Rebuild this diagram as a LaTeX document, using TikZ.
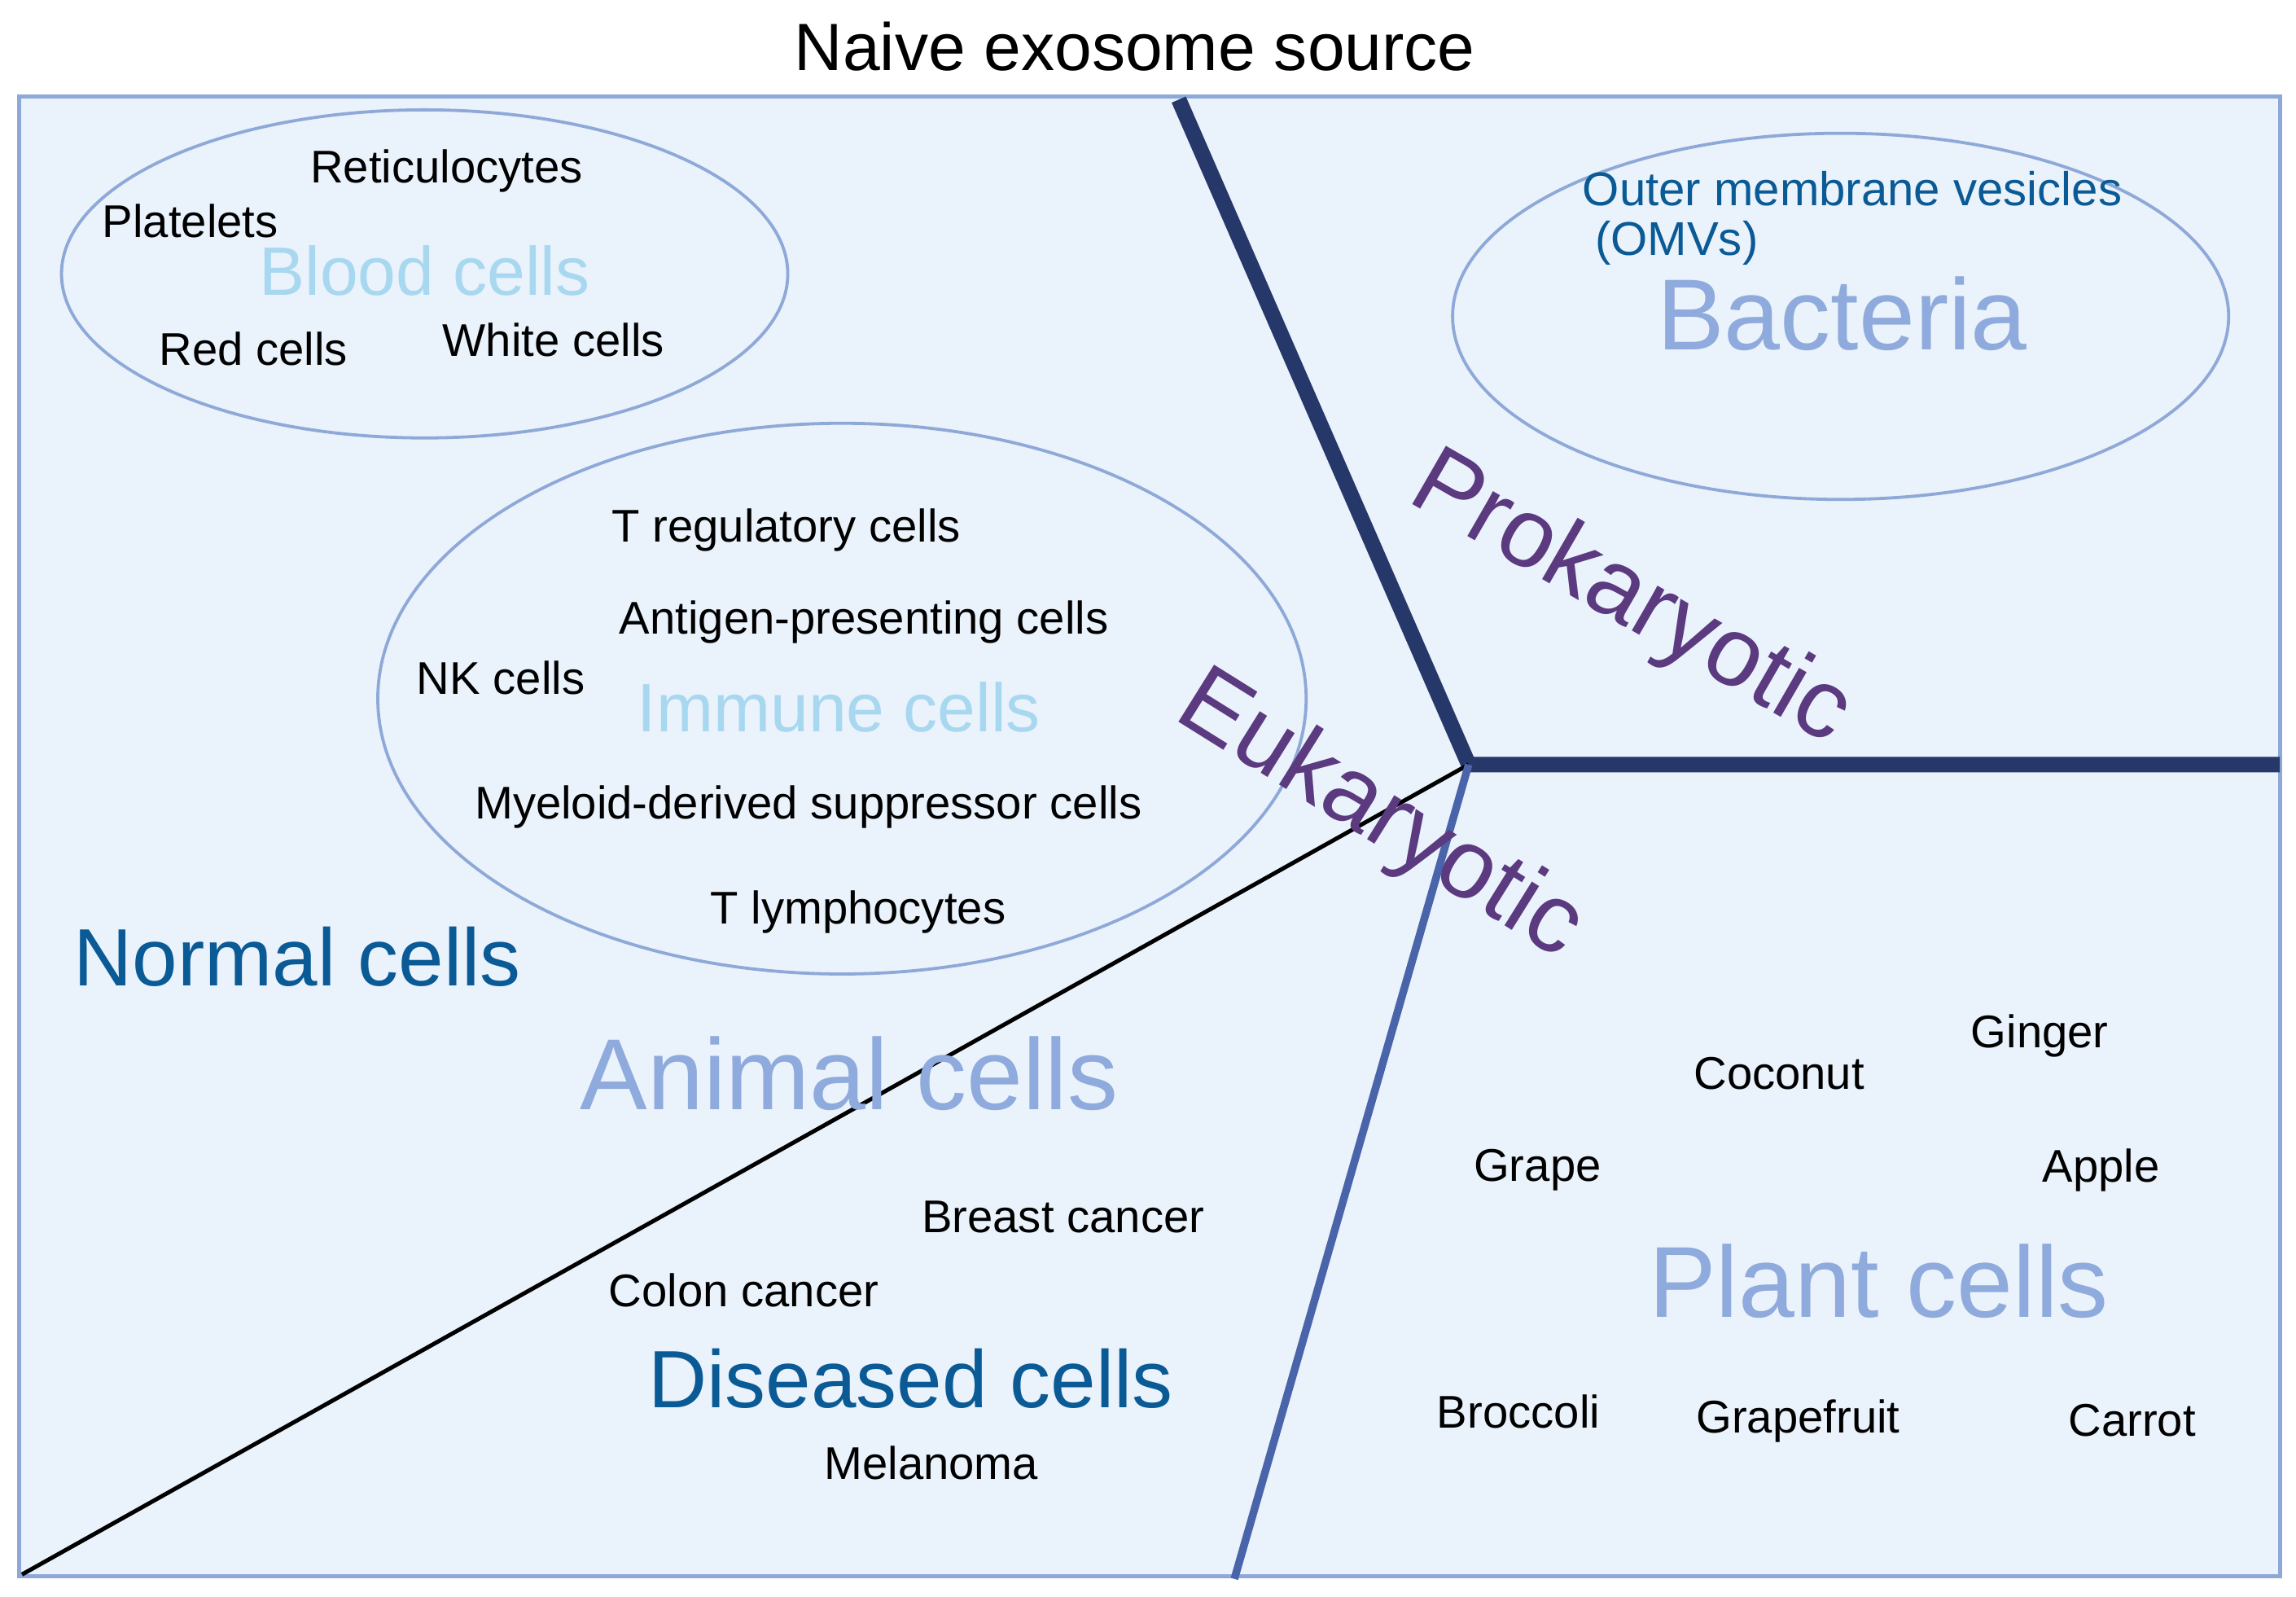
\documentclass[tikz,border=0pt]{standalone}
\usepackage{fontspec}
\setmainfont{Liberation Sans}
\begin{document}
\begin{tikzpicture}[x=0.1mm,y=-0.1mm,
  lbl/.style={font=\fontsize{8.9}{10}\selectfont,text=black},
  big/.style={text=blueA,font=\fontsize{19.6}{22}\selectfont},
  mid/.style={text=blueD,font=\fontsize{15.8}{18}\selectfont},
  lite/.style={text=lightB,font=\fontsize{13.3}{15}\selectfont},
  purp/.style={text=purpl,font=\fontsize{19}{20}\selectfont},
  ell/.style={draw=edgeB,line width=0.6pt}]
\definecolor{bgB}{HTML}{EAF2FB}
\definecolor{edgeB}{HTML}{8EA9D8}
\definecolor{blueA}{HTML}{8FAADC}
\definecolor{blueD}{HTML}{0A5A96}
\definecolor{lightB}{HTML}{A8D8F0}
\definecolor{purpl}{HTML}{5B3A7F}
\definecolor{navy}{HTML}{26386A}
\definecolor{midB}{HTML}{4A64AA}
\useasboundingbox (0,0) rectangle (1568,1090);
\fill[white] (0,0) rectangle (1568,1090);
\node[font=\fontsize{13}{14}\selectfont] (title) at (775,32) {Naive exosome source};
\draw[fill=bgB,draw=edgeB,line width=0.8pt] (13,66) rectangle (1557,1076);
\coordinate (c) at (1003,522);
\coordinate (t) at (805,68);
\coordinate (r) at (1557,522);
\coordinate (bl) at (15,1075);
\coordinate (b) at (843,1078);
\draw[navy,line width=3pt] (t) -- (c) -- (r);
\draw[black,line width=0.8pt] (bl) -- (c);
\draw[midB,line width=1.5pt] (c) -- (b);
\draw[ell] (290,187) ellipse [x radius=248,y radius=112];
\draw[ell] (575,477) ellipse [x radius=317,y radius=188];
\draw[ell] (1257,216) ellipse [x radius=265,y radius=125];
\node[lite] (bc) at (290,185) {Blood cells};
\node[lbl] (ret) at (305,117) {Reticulocytes};
\node[lbl] (pla) at (130,151) {Platelets};
\node[lbl] (red) at (173,238) {Red cells};
\node[lbl] (whi) at (378,232) {White cells};
\node[lite] (ic) at (573,483) {Immune cells};
\node[lbl] (treg) at (537,362) {T regulatory cells};
\node[lbl] (apc) at (590,425) {Antigen-presenting cells};
\node[lbl] (nk) at (342,463) {NK cells};
\node[lbl] (mdsc) at (552,551) {Myeloid-derived suppressor cells};
\node[lbl] (tl) at (586,623) {T lymphocytes};
\node[mid] (nc) at (203,653) {Normal cells};
\node[big] (ac) at (580,733) {Animal cells};
\node[lbl] (brc) at (726,831) {Breast cancer};
\node[lbl] (cc) at (508,881) {Colon cancer};
\node[mid] (dc) at (622,941) {Diseased cells};
\node[lbl] (mel) at (636,999) {Melanoma};
\node[text=blueD,font=\fontsize{9.2}{10}\selectfont] (omv) at (1265,129) {Outer membrane vesicles};
\node[text=blueD,font=\fontsize{9.2}{10}\selectfont] (omv2) at (1145,166) {(OMVs)};
\node[big] (bac) at (1258,214) {Bacteria};
\node[purp,rotate=-30] (pro) at (1113,410) {Prokaryotic};
\node[purp,rotate=-32] (euk) at (942,558) {Eukaryotic};
\node[lbl] (gin) at (1393,707) {Ginger};
\node[lbl] (coc) at (1215,733) {Coconut};
\node[lbl] (gra) at (1050,799) {Grape};
\node[lbl] (app) at (1435,799) {Apple};
\node[big] (pc) at (1283,875) {Plant cells};
\node[lbl] (bro) at (1037,964) {Broccoli};
\node[lbl] (grf) at (1228,970) {Grapefruit};
\node[lbl] (car) at (1456,970) {Carrot};
\end{tikzpicture}
\end{document}
